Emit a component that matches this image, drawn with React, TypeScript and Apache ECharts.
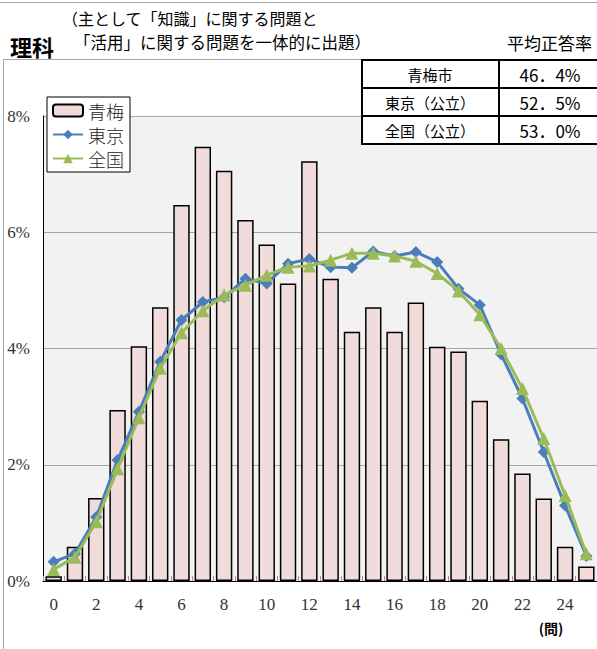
import React, { useEffect, useRef } from "react";
import * as echarts from "echarts";

const categories = ["0","1","2","3","4","5","6","7","8","9","10","11","12","13","14","15","16","17","18","19","20","21","22","23","24","25"];
const oumeValues = [0.08,0.59,1.43,2.94,4.04,4.71,6.47,7.47,7.06,6.21,5.79,5.12,7.22,5.2,4.29,4.71,4.29,4.79,4.03,3.95,3.10,2.44,1.85,1.42,0.59,0.25];
const tokyoValues = [0.33,0.47,1.10,2.08,2.91,3.77,4.49,4.80,4.88,5.20,5.12,5.46,5.54,5.40,5.39,5.67,5.59,5.66,5.49,5.03,4.75,3.90,3.14,2.22,1.30,0.43];
const nationalValues = [0.20,0.41,1.02,1.93,2.81,3.66,4.27,4.65,4.92,5.09,5.26,5.40,5.42,5.52,5.64,5.64,5.59,5.50,5.29,4.99,4.58,4.00,3.31,2.45,1.47,0.47];
const seriesNames = ["青梅", "東京", "全国"];
const tableLabels = ["青梅市", "東京（公立）", "全国（公立）"];
const tableValues = ["46．4%", "52．5%", "53．0%"];

const JP = "'Noto Sans CJK JP', 'Noto Sans', sans-serif";
const SERIF = "Liberation Serif";

export default function App() {
  const ref = useRef<HTMLDivElement>(null);
  useEffect(() => {
    if (!ref.current) return;
    const chart = echarts.init(ref.current, null, { renderer: "svg" });
    const rowTop = [60, 88, 116];
    const tableGraphics: any[] = [];
    rowTop.forEach((y, i) => {
      tableGraphics.push({
        type: "rect", shape: { x: 362, y, width: 137, height: 28 },
        style: { fill: "#fff", stroke: "#000", lineWidth: 2 }, z: 10,
      });
      tableGraphics.push({
        type: "rect", shape: { x: 499, y, width: 110, height: 28 },
        style: { fill: "#fff", stroke: "#000", lineWidth: 2 }, z: 10,
      });
      tableGraphics.push({
        type: "text", x: 430, y: y + 14, z: 11,
        style: { text: tableLabels[i], font: `15px ${JP}`, fill: "#000", textAlign: "center", textVerticalAlign: "middle" },
      });
      tableGraphics.push({
        type: "text", x: 550, y: y + 14, z: 11,
        style: { text: tableValues[i], font: `17px ${JP}`, fill: "#000", textAlign: "center", textVerticalAlign: "middle" },
      });
    });
    chart.setOption({
      animation: false,
      backgroundColor: "#fff",
      grid: { left: 43, top: 116, width: 557, height: 465, show: true, backgroundColor: "#f2f2f2", borderWidth: 0, containLabel: false },
      legend: {
        orient: "vertical", left: 47, top: 97, data: seriesNames,
        backgroundColor: "#fff", borderColor: "#000", borderWidth: 1,
        padding: [3, 6, 3, 5], itemGap: 3, itemWidth: 30, itemHeight: 12,
        textStyle: { fontFamily: "Noto Sans CJK JP", fontSize: 18, fontWeight: 300, color: "#222", lineHeight: 21 },
        z: 20,
      },
      xAxis: {
        type: "category", data: categories,
        axisLine: { show: true, lineStyle: { color: "#000", width: 1 } },
        axisTick: { show: true, inside: true, length: 5, interval: 0, lineStyle: { color: "#999" } },
        axisLabel: { interval: 1, margin: 15, fontFamily: SERIF, fontSize: 17, color: "#333" },
        splitLine: { show: false },
      },
      yAxis: {
        type: "value", min: 0, max: 8, interval: 2,
        axisLine: { show: true, lineStyle: { color: "#000", width: 1 } },
        axisTick: { show: false },
        axisLabel: { formatter: "{value}%", margin: 13, fontFamily: SERIF, fontSize: 17, color: "#333" },
        splitLine: { show: true, lineStyle: { color: "#a6a6a6", width: 1 } },
      },
      series: [
        {
          name: seriesNames[0], type: "bar", data: oumeValues, barCategoryGap: "23%",
          itemStyle: { color: "#f2dcdb", borderColor: "#000", borderWidth: 1.5 }, z: 2,
        },
        {
          name: seriesNames[1], type: "line", data: tokyoValues, symbol: "diamond", symbolSize: 12,
          lineStyle: { color: "#4a7ebb", width: 3 }, itemStyle: { color: "#4a7ebb" }, z: 3,
        },
        {
          name: seriesNames[2], type: "line", data: nationalValues, symbol: "triangle", symbolSize: 13,
          lineStyle: { color: "#9bbb59", width: 3 }, itemStyle: { color: "#9bbb59" }, z: 4,
        },
      ],
      graphic: [
        { type: "line", shape: { x1: 0, y1: 2.5, x2: 597, y2: 2.5 }, style: { stroke: "#a6a6a6", lineWidth: 1 } },
        { type: "line", shape: { x1: 3.5, y1: 59.5, x2: 362, y2: 59.5 }, style: { stroke: "#a6a6a6", lineWidth: 1 } },
        { type: "line", shape: { x1: 3.5, y1: 59.5, x2: 3.5, y2: 649 }, style: { stroke: "#a6a6a6", lineWidth: 1 } },
        { type: "text", x: 10, y: 46, style: { text: "理科", font: `bold 22px ${JP}`, fill: "#000", textVerticalAlign: "middle" } },
        { type: "text", x: 62, y: 18, style: { text: "（主として「知識」に関する問題と", font: `16px ${JP}`, fill: "#000", textVerticalAlign: "middle" } },
        { type: "text", x: 74, y: 42, style: { text: "「活用」に関する問題を一体的に出題）", font: `16.5px ${JP}`, fill: "#000", textVerticalAlign: "middle" } },
        { type: "text", x: 592, y: 42, style: { text: "平均正答率", font: `17px ${JP}`, fill: "#000", textAlign: "right", textVerticalAlign: "middle" } },
        { type: "text", x: 551, y: 628, style: { text: "(問)", font: `bold 14px ${JP}`, fill: "#000", textAlign: "center", textVerticalAlign: "middle" } },
        ...tableGraphics,
      ],
    });
    return () => chart.dispose();
  }, []);
  return <div ref={ref} style={{ position: "absolute", left: 0, top: 0, width: 597, height: 649 }} />;
}
